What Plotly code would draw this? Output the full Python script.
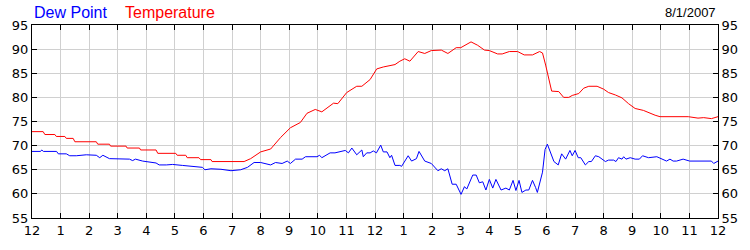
import plotly.graph_objects as go

hour_ticks = list(range(0, 25))
hour_labels = ["12", "1", "2", "3", "4", "5", "6", "7", "8", "9", "10", "11",
               "12", "1", "2", "3", "4", "5", "6", "7", "8", "9", "10", "11", "12"]

temp_hours = [0.0, 0.39, 0.45, 0.8, 0.85, 1.15, 1.2, 1.44, 1.5, 2.25, 2.3, 2.71, 2.75, 3.29, 3.33,
              3.76, 3.8, 4.34, 4.4, 5.03, 5.08, 5.38, 5.43, 5.84, 5.9, 6.26, 6.3, 6.96, 7.0, 7.42,
              7.65, 8.0, 8.35, 8.7, 9.04, 9.39, 9.62, 9.91, 10.14, 10.55, 10.7, 11.01, 11.36, 11.54,
              11.83, 12.06, 12.29, 12.52, 12.7, 12.87, 13.04, 13.22, 13.51, 13.74, 13.97, 14.32,
              14.55, 14.84, 15.0, 15.36, 15.59, 15.83, 16.0, 16.29, 16.45, 16.7, 16.99, 17.22,
              17.51, 17.76, 17.86, 17.97, 18.03, 18.09, 18.18, 18.43, 18.6, 18.78, 18.9, 19.13,
              19.3, 19.48, 19.77, 20.0, 20.17, 20.41, 20.64, 20.87, 21.1, 21.39, 21.57, 21.8,
              21.97, 22.96, 23.3, 23.5, 23.77, 24.0]
temperature = [72.9, 72.9, 72.3, 72.3, 71.9, 71.9, 71.5, 71.5, 70.8, 70.8, 70.3, 70.3, 69.9, 69.9, 69.5,
               69.5, 69.1, 69.1, 68.4, 68.4, 68.0, 68.0, 67.5, 67.5, 67.1, 67.1, 66.7, 66.7, 66.6, 66.7,
               67.3, 68.7, 69.3, 71.7, 73.7, 74.8, 76.7, 77.5, 77.0, 78.8, 78.7, 81.0, 82.3, 82.3,
               83.7, 85.9, 86.3, 86.5, 86.8, 87.5, 88.0, 87.5, 89.5, 89.1, 89.7, 89.8,
               89.1, 90.3, 90.3, 91.5, 90.8, 89.8, 89.7, 89.0, 89.0, 89.5, 89.5, 88.8,
               88.8, 89.5, 89.2, 86.7, 85.3, 83.3, 81.3, 81.2, 80.0, 80.0, 80.4, 80.8,
               81.9, 82.3, 82.3, 81.7, 81.0, 80.5, 79.9, 78.7, 77.7, 77.3, 76.8, 76.3,
               76.0, 76.0, 75.7, 75.8, 75.6, 76.0]

dew_hours = [0.0, 0.3, 0.34, 0.4, 0.86, 0.92, 1.2, 1.32, 1.55, 1.9, 2.25, 2.37, 2.48, 2.71, 3.41,
             3.52, 3.62, 3.87, 4.34, 4.45, 4.7, 4.92, 5.26, 5.61, 5.75, 5.96, 6.05, 6.26, 6.61,
             6.96, 7.3, 7.54, 7.77, 8.0, 8.35, 8.52, 8.75, 8.93, 9.04, 9.22, 9.45, 9.57, 9.97,
             10.06, 10.14, 10.3, 10.43, 10.6, 10.78, 10.96, 11.07, 11.19, 11.36, 11.54, 11.59,
             11.71, 11.83, 11.94, 12.05, 12.2, 12.29, 12.42, 12.52, 12.58, 12.7, 12.87, 12.93,
             13.04, 13.16, 13.28, 13.45, 13.54, 13.74, 13.97, 14.2, 14.32, 14.44, 14.55, 14.7,
             14.84, 15.01, 15.13, 15.21, 15.42, 15.54, 15.65, 15.77, 15.88, 16.0, 16.12, 16.23,
             16.41, 16.58, 16.7, 16.83, 16.93, 17.04, 17.14, 17.28, 17.38, 17.51, 17.62, 17.68,
             17.86, 17.95, 18.03, 18.15, 18.26, 18.41, 18.53, 18.67, 18.82, 18.9, 19.0, 19.11,
             19.2, 19.36, 19.48, 19.57, 19.71, 19.83, 20.06, 20.17, 20.35, 20.43, 20.52, 20.64,
             20.7, 20.78, 20.93, 21.1, 21.25, 21.36, 21.57, 21.86, 22.09, 22.2, 22.32, 22.43,
             22.55, 22.78, 23.01, 23.77, 23.85, 24.0]
dew_point = [68.8, 68.8, 69.1, 68.8, 68.8, 68.3, 68.3, 67.9, 67.9, 68.1, 68.0, 67.5, 68.0, 67.3, 67.2,
             66.9, 67.2, 66.8, 66.4, 66.0, 66.0, 66.1, 65.9, 65.7, 65.5, 65.5, 65.0, 65.2, 65.1,
             64.8, 65.0, 65.5, 66.5, 66.5, 66.0, 66.5, 66.3, 66.8, 66.3, 67.2, 67.2, 67.7, 67.7,
             68.0, 67.5, 68.0, 68.5, 68.5, 68.8, 69.0, 68.5, 69.5, 68.1, 69.1, 67.7,
             68.5, 68.5, 68.9, 68.5, 70.1, 68.7, 68.7, 67.5, 68.0, 65.9, 65.9, 65.7,
             66.7, 67.9, 66.8, 67.3, 68.8, 66.8, 66.3, 64.8, 65.2, 64.8, 65.2, 62.0,
             62.0, 59.9, 61.5, 61.0, 63.9, 63.9, 62.3, 62.5, 60.8, 63.0, 61.2, 63.0,
             60.8, 61.2, 60.8, 62.8, 60.7, 62.8, 60.3, 60.8, 60.8, 62.8, 61.3, 60.3,
             64.5, 69.2, 70.3, 68.5, 66.7, 66.0, 68.3, 67.2, 69.0, 67.9, 69.0, 67.5,
             67.5, 66.0, 66.7, 66.7, 67.9, 67.7, 66.7, 67.0, 67.0, 66.7, 67.5, 67.2,
             67.7, 67.2, 67.5, 67.2, 67.2, 67.9, 67.5, 67.7, 67.2, 66.8, 67.2, 66.8,
             66.8, 67.2, 66.8, 66.8, 66.3, 66.8]

y_ticks = [55, 60, 65, 70, 75, 80, 85, 90, 95]
date_label = "8/1/2007"

tick_font = dict(family="DejaVu Sans", size=13, color="#000000")

fig = go.Figure()
fig.add_trace(go.Scatter(x=temp_hours, y=temperature, mode="lines", name="Temperature",
                         line=dict(color="#ff0000", width=1)))
fig.add_trace(go.Scatter(x=dew_hours, y=dew_point, mode="lines", name="Dew Point",
                         line=dict(color="#0000ff", width=1)))
# invisible trace to carry right axis
fig.add_trace(go.Scatter(x=[0], y=[55], mode="markers", yaxis="y2",
                         marker=dict(opacity=0), hoverinfo="skip", showlegend=False))

fig.update_layout(
    width=750, height=250,
    margin=dict(l=30, r=30, t=25, b=25),
    paper_bgcolor="white", plot_bgcolor="white",
    showlegend=False,
    xaxis=dict(range=[0, 24], tickvals=hour_ticks, ticktext=hour_labels,
               ticks="inside", ticklen=5, tickcolor="black", tickwidth=1,
               showline=True, linecolor="black", linewidth=1, mirror="ticks",
               showgrid=True, gridcolor="#d0d0d0", gridwidth=1, zeroline=False,
               tickfont=tick_font),
    yaxis=dict(range=[55, 95], tickvals=y_ticks,
               ticks="inside", ticklen=5, tickcolor="black", tickwidth=1,
               showline=True, linecolor="black", linewidth=1, mirror=True,
               showgrid=True, gridcolor="#d0d0d0", gridwidth=1, zeroline=False,
               tickfont=tick_font),
    yaxis2=dict(range=[55, 95], tickvals=y_ticks, overlaying="y", side="right",
                ticks="inside", ticklen=5, tickcolor="black", tickwidth=1,
                showline=True, linecolor="black", linewidth=1,
                showgrid=False, zeroline=False, tickfont=tick_font),
    annotations=[
        dict(text="Dew Point", xref="paper", yref="paper", x=0.0, y=1.065,
             xanchor="left", yanchor="middle", showarrow=False,
             font=dict(family="Liberation Sans", size=16, color="#0000ff")),
        dict(text="Temperature", xref="paper", yref="paper", x=0.133, y=1.065,
             xanchor="left", yanchor="middle", showarrow=False,
             font=dict(family="Liberation Sans", size=16, color="#ff0000")),
        dict(text=date_label, xref="paper", yref="paper", x=1.0, y=1.065,
             xanchor="right", yanchor="middle", showarrow=False,
             font=dict(family="Liberation Sans", size=13, color="#000000")),
    ],
)

fig.write_html("out.html")
